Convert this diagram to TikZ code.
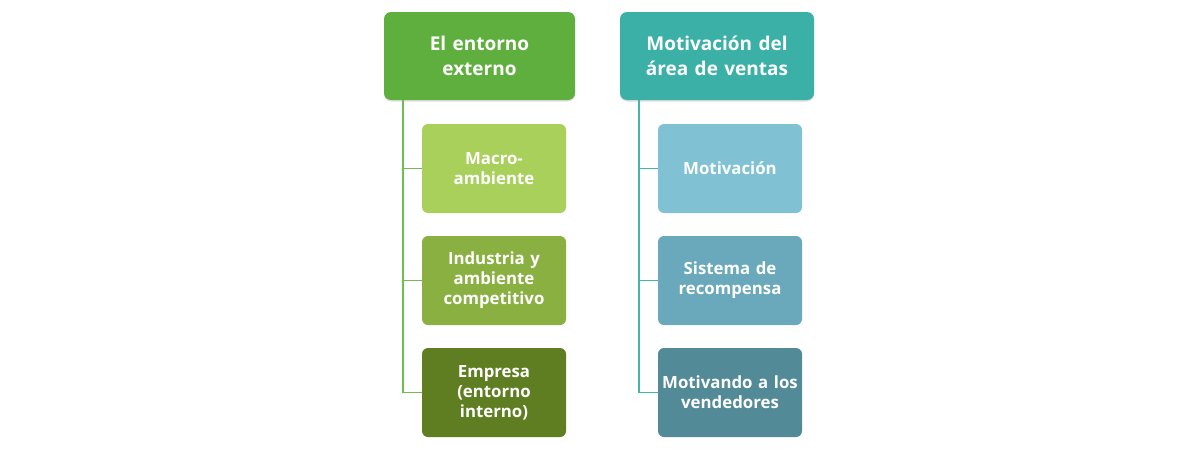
\documentclass[tikz,border=0pt]{standalone}
\usepackage{fontspec}
\setmainfont{Open Sans}
\usetikzlibrary{shadows}
\definecolor{hgreen}{HTML}{5FAF3E}
\definecolor{hteal}{HTML}{3AB0A6}
\definecolor{lgreen}{HTML}{6BBF50}
\definecolor{lteal}{HTML}{45B5AA}
\definecolor{g1}{HTML}{A9D05A}
\definecolor{g2}{HTML}{8AB042}
\definecolor{g3}{HTML}{5F7E22}
\definecolor{b1}{HTML}{80C2D4}
\definecolor{b2}{HTML}{69A9BB}
\definecolor{b3}{HTML}{528A98}
\tikzset{
  headbox/.style={rounded corners=7pt, minimum width=191pt, minimum height=88pt,
    text width=188pt, align=center, text=white, font=\fontsize{19}{25}\selectfont\bfseries,
    inner sep=0pt, drop shadow={shadow xshift=0pt, shadow yshift=-1.5pt, opacity=0.25}},
  childbox/.style={rounded corners=6pt, minimum width=144pt, minimum height=89pt,
    text width=142pt, align=center, text=white, font=\fontsize{16.8}{20}\selectfont\bfseries,
    inner sep=0pt},
  linkg/.style={draw=lgreen, line width=1.6pt},
  linkt/.style={draw=lteal, line width=1.6pt}
}
\begin{document}
\begin{tikzpicture}[x=1pt,y=-1pt]
\useasboundingbox (0,0) rectangle (1200,450);
% left column
\node[headbox, fill=hgreen] (h1) at (479.5,56) {El entorno\\externo};
\node[childbox, fill=g1] (c1) at (494,168.5) {Macro-\\ambiente};
\node[childbox, fill=g2] (c2) at (494,280.5) {Industria y\\ambiente\\competitivo};
\node[childbox, fill=g3] (c3) at (494,392.5) {Empresa\\(entorno\\interno)};
% right column
\node[headbox, fill=hteal, minimum width=194pt] (h2) at (717,56) {Motivación del\\área de ventas};
\node[childbox, fill=b1] (d1) at (730,168.5) {Motivación};
\node[childbox, fill=b2] (d2) at (730,280.5) {Sistema de\\recompensa};
\node[childbox, fill=b3] (d3) at (730,392.5) {Motivando a los\\vendedores};
% connectors
\coordinate (gl) at (403,100);
\coordinate (tl) at (639,100);
\draw[linkg] (gl) |- (c3.west);
\draw[linkg] (gl |- c1.west) -- (c1.west);
\draw[linkg] (gl |- c2.west) -- (c2.west);
\draw[linkt] (tl) |- (d3.west);
\draw[linkt] (tl |- d1.west) -- (d1.west);
\draw[linkt] (tl |- d2.west) -- (d2.west);
\end{tikzpicture}
\end{document}
